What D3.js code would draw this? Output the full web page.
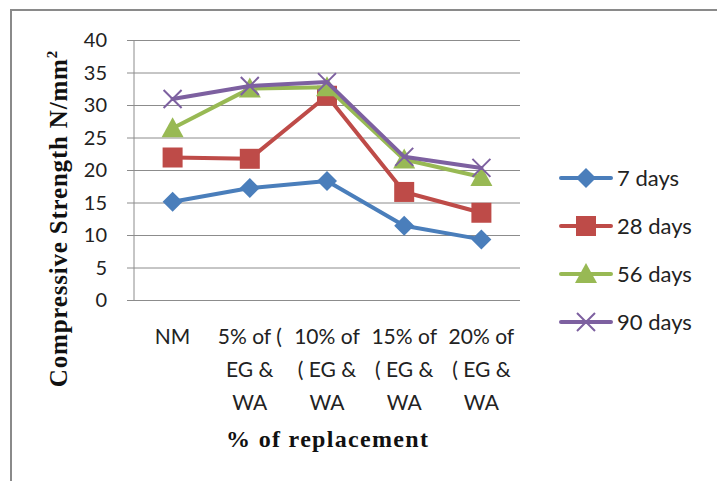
<!DOCTYPE html>
<html><head><meta charset="utf-8">
<script src="https://cdn.jsdelivr.net/npm/d3@7"></script>
<style>body{margin:0;background:#fff}svg{display:block}</style>
</head><body><svg id="c" width="717" height="481"></svg>
<script>
const categories = ["NM", "5% of ( EG & WA", "10% of ( EG & WA", "15% of ( EG & WA", "20% of ( EG & WA"];
const categoryLines = [["NM"], ["5% of (", "EG &", "WA"], ["10% of", "( EG &", "WA"], ["15% of", "( EG &", "WA"], ["20% of", "( EG &", "WA"]];
const seriesNames = ["7 days", "28 days", "56 days", "90 days"];
const days7 = [15.2, 17.3, 18.4, 11.5, 9.4];
const days28 = [22.0, 21.8, 31.5, 16.7, 13.5];
const days56 = [26.5, 32.6, 32.8, 21.7, 19.0];
const days90 = [31.0, 33.0, 33.6, 22.1, 20.4];
const yTicks = [0, 5, 10, 15, 20, 25, 30, 35, 40];
const colors = ["#4A7EBB", "#BE4B48", "#98B954", "#7D60A0"];
const symbols = ["diamond", "square", "triangle", "x"];
const allSeries = [days7, days28, days56, days90];

const svg = d3.select("#c");
const sans = "Lato, 'Open Sans', sans-serif";
const serif = "'Liberation Serif', 'Times New Roman', serif";
// outer frame
svg.append("rect").attr("x", 11).attr("y", 10).attr("width", 720).attr("height", 490)
  .attr("fill", "none").attr("stroke", "#8a8a8a").attr("stroke-width", 2);

const pLeft = 134, pRight = 520, pTop = 40.5, pBottom = 300.5;
const x = d3.scaleBand().domain(categories).range([pLeft, pRight]);
const y = d3.scaleLinear().domain([0, 40]).range([pBottom, pTop]);

// gridlines
svg.append("g").selectAll("line").data(yTicks).join("line")
  .attr("x1", pLeft - 7).attr("x2", pRight).attr("y1", d => y(d)).attr("y2", d => y(d))
  .attr("stroke", "#8c8c8c").attr("stroke-width", 1);
// y axis line
svg.append("line").attr("x1", pLeft).attr("x2", pLeft).attr("y1", pTop).attr("y2", pBottom)
  .attr("stroke", "#8c8c8c").attr("stroke-width", 1);

const yAxis = d3.axisLeft(y).tickValues(yTicks).tickSize(0).tickPadding(27);
const yg = svg.append("g").attr("transform", `translate(${pLeft},0)`).call(yAxis);
yg.select(".domain").remove();
yg.selectAll("text").attr("font-family", sans).attr("font-size", 20).attr("fill", "#222");

// x labels
const xg = svg.append("g");
categories.forEach((c, i) => {
  const t = xg.append("text").attr("text-anchor", "middle")
    .attr("font-family", sans).attr("font-size", 21).attr("fill", "#222");
  categoryLines[i].forEach((ln, j) => {
    t.append("tspan").attr("x", x(c) + x.bandwidth() / 2).attr("y", 344 + j * 33).text(ln);
  });
});

// axis titles
svg.append("text").attr("x", 327).attr("y", 447).attr("text-anchor", "middle")
  .attr("font-family", serif).attr("font-weight", "bold")
  .attr("font-size", 24).attr("fill", "#111").attr("textLength", 202).text("% of replacement");
const yt = svg.append("text").attr("transform", "translate(67,219) rotate(-90)").attr("text-anchor", "middle")
  .attr("font-family", serif).attr("font-weight", "bold")
  .attr("font-size", 25).attr("fill", "#111");
yt.append("tspan").attr("textLength", 328).text("Compressive Strength N/mm");
yt.append("tspan").attr("font-size", 15).attr("dy", -10).text("2");

function marker(g, type, cx, cy, color) {
  if (type === "diamond") {
    g.append("path").attr("d", `M${cx},${cy-10}L${cx+10},${cy}L${cx},${cy+10}L${cx-10},${cy}Z`).attr("fill", color);
  } else if (type === "square") {
    g.append("rect").attr("x", cx - 10).attr("y", cy - 10).attr("width", 20).attr("height", 20).attr("fill", color);
  } else if (type === "triangle") {
    g.append("path").attr("d", `M${cx},${cy-11}L${cx+11},${cy+9}L${cx-11},${cy+9}Z`).attr("fill", color);
  } else {
    g.append("path").attr("d", `M${cx-9},${cy-9}L${cx+9},${cy+9}M${cx-9},${cy+9}L${cx+9},${cy-9}`)
      .attr("stroke", color).attr("stroke-width", 2).attr("fill", "none");
  }
}

const line = d3.line().x((d, i) => x(categories[i]) + x.bandwidth() / 2).y(d => y(d));
allSeries.forEach((s, k) => {
  const g = svg.append("g");
  g.append("path").attr("d", line(s)).attr("fill", "none").attr("stroke", colors[k])
    .attr("stroke-width", 4).attr("stroke-linejoin", "round").attr("stroke-linecap", "round");
  s.forEach((v, i) => marker(g, symbols[k], x(categories[i]) + x.bandwidth() / 2, y(v), colors[k]));
});

// legend
seriesNames.forEach((n, k) => {
  const ly = 178 + k * 48;
  const g = svg.append("g");
  g.append("line").attr("x1", 561).attr("x2", 611).attr("y1", ly).attr("y2", ly)
    .attr("stroke", colors[k]).attr("stroke-width", 4).attr("stroke-linecap", "round");
  marker(g, symbols[k], 586, ly, colors[k]);
  g.append("text").attr("x", 617).attr("y", ly + 8).attr("font-family", sans)
    .attr("font-size", 22).attr("fill", "#222").text(n);
});
</script></body></html>
